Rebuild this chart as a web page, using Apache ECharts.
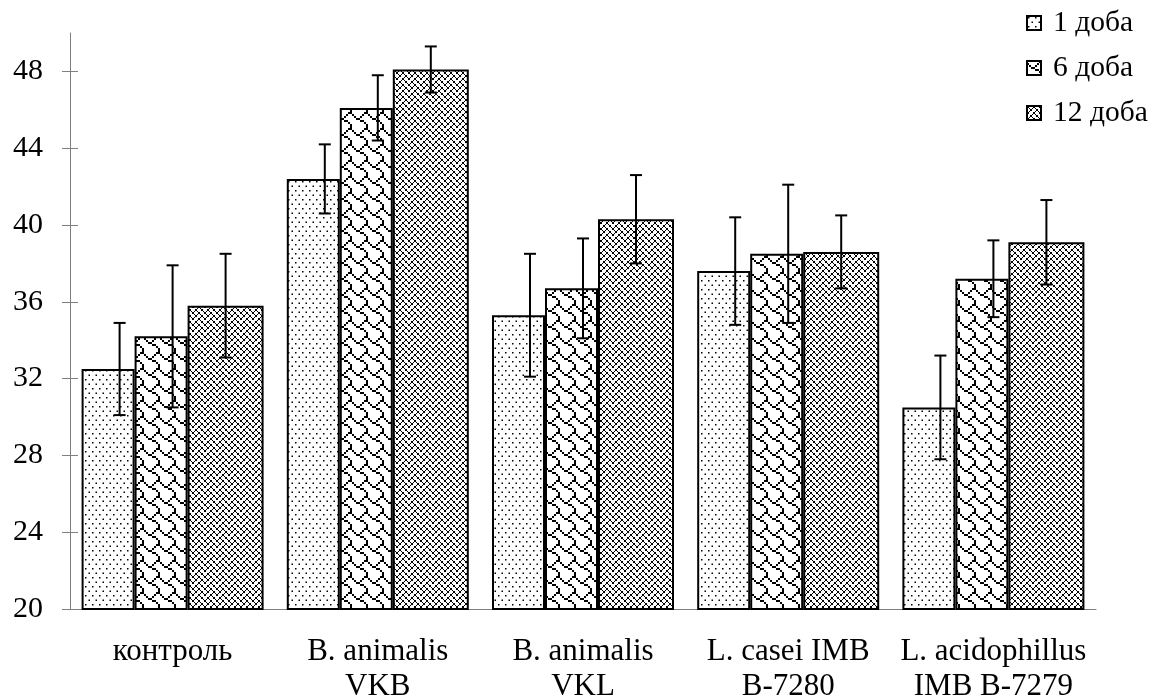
<!DOCTYPE html>
<html>
<head>
<meta charset="utf-8">
<script src="https://cdn.jsdelivr.net/npm/echarts@6/dist/echarts.min.js"></script>
<style>
html,body{margin:0;padding:0;background:#fff;}
#chart{width:1156px;height:695px;}
</style>
</head>
<body>
<div id="chart"></div>
<script>
// ---- data ----
const categories = ['контроль', 'B. animalis\nVKB', 'B. animalis\nVKL', 'L. casei IMB\nB-7280', 'L. acidophillus\nIMB B-7279'];
const seriesNames = ['1 доба', '6 доба', '12 доба'];
const day1 = [32.5, 42.4, 35.3, 37.6, 30.5];
const day6 = [34.2, 46.1, 36.7, 38.5, 37.2];
const day12 = [35.8, 48.1, 40.3, 38.6, 39.1];
const err1 = [2.4, 1.8, 3.2, 2.8, 2.7];
const err6 = [3.7, 1.7, 2.6, 3.6, 2.0];
const err12 = [2.7, 1.2, 2.3, 1.9, 2.2];
const yTicks = [20, 24, 28, 32, 36, 40, 44, 48];

// ---- styles ----
const FONT = 'Liberation Serif';
const barWidths = [53, 53, 76];
const errOffsets = [-53, 0, 53];

function makeTile(w, h, draw) {
  const c = document.createElement('canvas');
  c.width = w; c.height = h;
  const ctx = c.getContext('2d');
  ctx.fillStyle = '#fff';
  ctx.fillRect(0, 0, w, h);
  ctx.fillStyle = '#000';
  draw(ctx);
  return { image: c, repeat: 'repeat' };
}
function bitmapTile(rows, s) {
  const size = Math.round(8 * s);
  return makeTile(size, size, function (ctx) {
    for (let y = 0; y < size; y++) {
      for (let x = 0; x < size; x++) {
        const bx = Math.floor(x / s), by = Math.floor(y / s);
        if ((rows[by] >> (7 - bx)) & 1) ctx.fillRect(x, y, 1, 1);
      }
    }
  });
}
const patDots = makeTile(7, 9, function (ctx) {
  ctx.fillRect(1, 1, 1.5, 1.5);
  ctx.fillRect(4.5, 5.5, 1.5, 1.5);
});
const patShingle = bitmapTile([0x03, 0x84, 0x48, 0x30, 0x0c, 0x02, 0x01, 0x01], 2);
const patWeave = bitmapTile([0x88, 0x54, 0x22, 0x45, 0x88, 0x14, 0x22, 0x51], 1.5);
const patterns = [patDots, patShingle, patWeave];
const values = [day1, day6, day12];
const errs = [err1, err6, err12];

const series = [];
for (let s = 0; s < 3; s++) {
  series.push({
    name: seriesNames[s],
    type: 'bar',
    data: values[s],
    barWidth: barWidths[s],
    barGap: '0%',
    itemStyle: { color: patterns[s], borderColor: '#000', borderWidth: 2 },
    emphasis: { disabled: true }
  });
}
for (let s = 0; s < 3; s++) {
  const off = errOffsets[s];
  series.push({
    name: 'err' + s,
    type: 'custom',
    z: 5,
    data: values[s].map(function (v, i) { return [i, v, errs[s][i]]; }),
    encode: { x: 0, y: 1 },
    renderItem: function (params, api) {
      const c = api.value(0), v = api.value(1), e = api.value(2);
      const top = api.coord([c, v + e]);
      const bot = api.coord([c, v - e]);
      const x = top[0] + off;
      const cap = 6;
      const st = { stroke: '#000', lineWidth: 2 };
      return {
        type: 'group',
        children: [
          { type: 'line', shape: { x1: x, y1: top[1], x2: x, y2: bot[1] }, style: st },
          { type: 'line', shape: { x1: x - cap, y1: top[1], x2: x + cap, y2: top[1] }, style: st },
          { type: 'line', shape: { x1: x - cap, y1: bot[1], x2: x + cap, y2: bot[1] }, style: st }
        ]
      };
    }
  });
}

const chart = echarts.init(document.getElementById('chart'), null, { renderer: 'canvas' });
chart.setOption({
  animation: false,
  backgroundColor: '#fff',
  grid: { left: 70, right: 60, top: 33, bottom: 86, containLabel: false, outerBoundsMode: 'none' },
  legend: {
    data: seriesNames,
    orient: 'vertical',
    left: 1026,
    top: 8,
    padding: 0,
    itemWidth: 14,
    itemHeight: 14,
    itemGap: 15,
    icon: 'rect',
    selectedMode: false,
    textStyle: { fontFamily: FONT, fontSize: 29.5, color: '#000', lineHeight: 30, padding: [0, 0, 0, 7] }
  },
  xAxis: [
    {
      type: 'category',
      data: categories,
      axisLine: { lineStyle: { color: '#808080', width: 1 } },
      axisTick: { length: 8, lineStyle: { color: '#808080' } },
      axisLabel: { interval: 0, margin: 25, fontFamily: FONT, fontSize: 31, color: '#000', lineHeight: 35 }
    },
    {
      type: 'category',
      data: categories,
      position: 'bottom',
      axisLine: { show: false },
      axisTick: { inside: true, length: 9, lineStyle: { color: '#808080' } },
      axisLabel: { show: false }
    }
  ],
  yAxis: [
    {
      type: 'value',
      min: 20, max: 50, interval: 4,
      axisLine: { show: true, lineStyle: { color: '#808080', width: 1 } },
      axisTick: { show: true, length: 8, customValues: yTicks, lineStyle: { color: '#808080' } },
      axisLabel: { customValues: yTicks, margin: 27, fontFamily: FONT, fontSize: 30, color: '#000' },
      splitLine: { show: false }
    },
    {
      type: 'value',
      min: 20, max: 50, interval: 4,
      position: 'left',
      axisLine: { show: false },
      axisTick: { show: true, inside: true, length: 8, customValues: yTicks, lineStyle: { color: '#808080' } },
      axisLabel: { show: false },
      splitLine: { show: false }
    }
  ],
  series: series
});
</script>
</body>
</html>
